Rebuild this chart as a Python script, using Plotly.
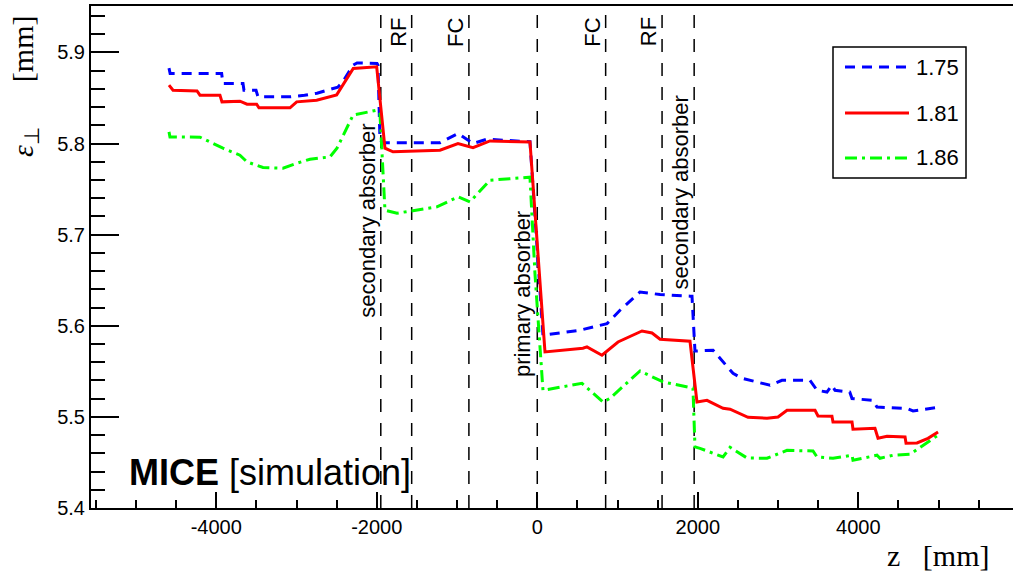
import plotly.graph_objects as go

# ---------------- data ----------------
labels = ["1.75", "1.81", "1.86"]

z_175 = [-4589, -4575, -3933, -3917, -3667, -3655, -3505, -3480, -3081, -2900, -2745, -2583, -2483, -2421,
         -2296, -2246, -1997, -1985, -1960, -1923, -1212, -988, -801, -627, -91, 71, 532, 869, 1031, 1280,
         1530, 1903, 1928, 1965, 2190, 2439, 2551, 2900, 3049, 3398, 3486, 3610, 3672, 3710, 3894, 3922,
         4183, 4233, 4608, 4682, 5019]
eps_175 = [5.8828, 5.8769, 5.8769, 5.8659, 5.8659, 5.8586, 5.8586, 5.8513, 5.8513, 5.8530, 5.8553, 5.8590,
           5.8620, 5.8680, 5.8860, 5.8885, 5.8880, 5.8860, 5.8037, 5.8010, 5.8010, 5.8111, 5.8000, 5.8048,
           5.8020, 5.5896, 5.5951, 5.6024, 5.6171, 5.6371, 5.6343, 5.6325, 5.6325, 5.5723, 5.5732, 5.5478,
           5.5424, 5.5347, 5.5402, 5.5402, 5.5292, 5.5273, 5.5347, 5.5292, 5.5273, 5.5201, 5.5182, 5.5108,
           5.5092, 5.5065, 5.5108]

z_181 = [-4589, -4539, -4240, -4203, -3954, -3929, -3705, -3617, -3497, -3468, -3081, -2998, -2749, -2500,
         -2293, -2001, -1898, -1798, -1212, -988, -801, -589, -91, 96, 569, 619, 806, 1006, 1305, 1430, 1530,
         1903, 1990, 2115, 2315, 2402, 2626, 2863, 3000, 3112, 3461, 3498, 3672, 3685, 3922, 3934, 4208,
         4246, 4358, 4583, 4595, 4732, 4869, 4994]
eps_181 = [5.8641, 5.8586, 5.8578, 5.8531, 5.8531, 5.8458, 5.8465, 5.8432, 5.8432, 5.8392, 5.8392, 5.8458,
           5.8476, 5.8535, 5.8825, 5.8842, 5.7949, 5.7909, 5.7927, 5.8000, 5.7956, 5.8029, 5.8018, 5.5713,
           5.5753, 5.5768, 5.5677, 5.5822, 5.5943, 5.5921, 5.5852, 5.5830, 5.5163, 5.5182, 5.5095, 5.5084,
           5.4996, 5.4985, 5.4999, 5.5073, 5.5073, 5.5010, 5.5007, 5.4945, 5.4945, 5.4864, 5.4875, 5.4765,
           5.4787, 5.4780, 5.4710, 5.4714, 5.4765, 5.4834]

z_186 = [-4589, -4577, -4203, -3917, -3705, -3617, -3418, -3168, -2994, -2832, -2583, -2496, -2296, -1997,
         -1960, -1898, -1748, -1250, -988, -839, -589, -91, -29, 71, 557, 819, 906, 1280, 1567, 1903, 1940,
         1965, 2028, 2315, 2402, 2613, 2863, 3112, 3436, 3486, 3685, 3922, 3934, 4233, 4271, 4433, 4645, 4994]
eps_186 = [5.8128, 5.8073, 5.8070, 5.7949, 5.7872, 5.7799, 5.7737, 5.7730, 5.7785, 5.7828, 5.7854, 5.7949,
           5.8312, 5.8367, 5.8330, 5.7269, 5.7236, 5.7305, 5.7415, 5.7360, 5.7598, 5.7631, 5.6574, 5.5292,
           5.5369, 5.5163, 5.5204, 5.5504, 5.5384, 5.5328, 5.5315, 5.4670, 5.4655, 5.4560, 5.4666, 5.4549,
           5.4546, 5.4633, 5.4626, 5.4560, 5.4546, 5.4579, 5.4524, 5.4579, 5.4546, 5.4579, 5.4590, 5.4800]

element_z = [-1950, -1565, -852, 0, 852, 1555, 1955]
element_names = ["secondary absorber", "RF", "FC", "primary absorber", "FC", "RF", "secondary absorber"]
element_label_y = [5.7150, 5.9223, 5.9223, 5.6351, 5.9223, 5.9223, 5.7464]

x_tickvals = [-4000, -2000, 0, 2000, 4000]
x_ticktext = ["-4000", "-2000", "0", "2000", "4000"]

# ---------------- layout geometry ----------------
W, H = 1013, 575
L, R, T, B = 91, 0, 6, 67
PW, PH = W - L - R, H - T - B


def px(xp):
    return (xp - L) / PW


def py(yp):
    return (H - B - yp) / PH


SANS = "Liberation Sans, Arial, Helvetica, sans-serif"
SERIF = "Liberation Serif, Times New Roman, serif"

styles = [
    dict(color="#0000ff", width=3, dash="10px,7px"),
    dict(color="#ff0000", width=3, dash="solid"),
    dict(color="#00ff00", width=3, dash="12px,5px,3px,5px"),
]

fig = go.Figure()
series = [(z_175, eps_175), (z_186, eps_186), (z_181, eps_181)]
order = [0, 2, 1]
for (zz, ee), idx in zip(series, order):
    fig.add_trace(go.Scatter(x=zz, y=ee, mode="lines", name=labels[idx],
                             line=styles[idx], showlegend=False))

shapes = []
for zl in element_z:
    shapes.append(dict(type="line", xref="x", yref="paper", x0=zl, x1=zl, y0=0, y1=1,
                       line=dict(color="black", width=1.5, dash="13px,11px"), layer="below"))

# legend box (manual, ROOT style)
shapes.append(dict(type="rect", xref="paper", yref="paper", x0=px(833), x1=px(966), y0=py(178), y1=py(47),
                   line=dict(color="black", width=1.5), fillcolor="white", layer="above"))
annotations = []
leg_y = [67, 113, 158]
for i in range(3):
    shapes.append(dict(type="line", xref="paper", yref="paper", x0=px(845), x1=px(909),
                       y0=py(leg_y[i]), y1=py(leg_y[i]), line=styles[i], layer="above"))
    annotations.append(dict(x=px(914), y=py(leg_y[i]), xref="paper", yref="paper", text=labels[i],
                            showarrow=False, xanchor="left", yanchor="middle",
                            font=dict(family=SANS, size=22, color="black")))

for zl, name, yl in zip(element_z, element_names, element_label_y):
    annotations.append(dict(x=zl, y=yl, xref="x", yref="y", text=name, textangle=-90,
                            showarrow=False, xanchor="center", yanchor="middle", xshift=-14,
                            font=dict(family=SANS, size=22, color="black")))

annotations.append(dict(x=px(127), y=py(472), xref="paper", yref="paper",
                        text="<b>MICE</b> [simulation]", showarrow=False, xanchor="left",
                        yanchor="middle", font=dict(family=SANS, size=36, color="black")))

annotations.append(dict(x=px(991), y=py(555), xref="paper", yref="paper",
                        text="z   [mm]", showarrow=False, xanchor="right", yanchor="middle",
                        font=dict(family=SERIF, size=30, color="black")))
annotations.append(dict(x=px(25), y=py(87), xref="paper", yref="paper",
                        text="<i>ε</i><sub>⊥</sub>      [mm]", textangle=-90, showarrow=False,
                        xanchor="center", yanchor="middle",
                        font=dict(family=SERIF, size=30, color="black")))

fig.update_layout(
    width=W, height=H,
    margin=dict(l=L, r=R, t=T, b=B, pad=0),
    paper_bgcolor="white", plot_bgcolor="white",
    shapes=shapes, annotations=annotations,
    showlegend=False,
    xaxis=dict(range=[-5561, 5928], showgrid=False, zeroline=False,
               showline=True, linecolor="black", linewidth=2, mirror=True,
               ticks="inside", ticklen=16, tickwidth=1.5, tickcolor="black",
               tickmode="array", tickvals=x_tickvals, ticktext=x_ticktext,
               minor=dict(ticks="inside", ticklen=8, tickwidth=1.5, tickcolor="black", dtick=500, tick0=0,
                          showgrid=False),
               tickfont=dict(family=SANS, size=20, color="black")),
    yaxis=dict(range=[5.4, 5.951], showgrid=False, zeroline=False,
               showline=True, linecolor="black", linewidth=2, mirror=False,
               ticks="inside", ticklen=28, tickwidth=1.5, tickcolor="black",
               tick0=5.4, dtick=0.1, tickformat=".1f",
               minor=dict(ticks="inside", ticklen=14, tickwidth=1.5, tickcolor="black", dtick=0.02,
                          tick0=5.4, showgrid=False),
               tickfont=dict(family=SANS, size=20, color="black")),
)

fig.write_html("out.html")
